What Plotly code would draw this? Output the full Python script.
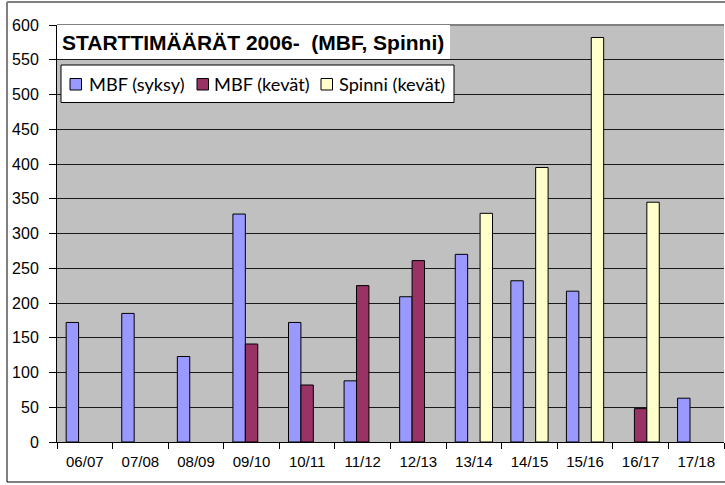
import plotly.graph_objects as go

categories = ["06/07", "07/08", "08/09", "09/10", "10/11", "11/12",
              "12/13", "13/14", "14/15", "15/16", "16/17", "17/18"]
mbf_syksy = [172, 185, 123, 328, 172, 88, 209, 270, 232, 217, None, 63]
mbf_kevat = [None, None, None, 141, 82, 225, 261, None, None, None, 48, None]
spinni_kevat = [None, None, None, None, None, None, None, 329, 395, 582, 345, None]
series_names = ["MBF (syksy)", "MBF (kevät)", "Spinni (kevät)"]
series_colors = ["#9999FF", "#993366", "#FFFFCC"]
y_ticks = list(range(0, 601, 50))
title_text = "STARTTIMÄÄRÄT 2006-  (MBF, Spinni)"

W, H = 725, 485
L, R, T, B = 57, 1, 25, 43
pw, ph = W - L - R, H - T - B

def px(x):
    return (x - L) / pw

def py(y):
    return 1 - (y - T) / ph

fig = go.Figure()
for name, vals, col in zip(series_names, [mbf_syksy, mbf_kevat, spinni_kevat], series_colors):
    fig.add_trace(go.Bar(x=categories, y=vals, name=name, showlegend=False,
                         hoverinfo="skip",
                         marker=dict(color=col, line=dict(color="black", width=1))))

fig.update_layout(
    width=W, height=H,
    margin=dict(l=L, r=R, t=T, b=B),
    paper_bgcolor="white",
    plot_bgcolor="#C0C0C0",
    barmode="group",
    bargap=0.33,
    bargroupgap=0,
    showlegend=False,
    xaxis=dict(showgrid=False, ticks="outside", tickson="boundaries", ticklen=6,
               tickcolor="black", showline=True, linecolor="black", linewidth=1,
               tickfont=dict(family="Liberation Sans, Arial, sans-serif", size=15, color="black"),
               ticklabelstandoff=6),
    yaxis=dict(range=[0, 600], tickvals=y_ticks, showgrid=True, gridcolor="#1a1a1a",
               gridwidth=1, ticks="outside", ticklen=7, tickcolor="black",
               showline=True, linecolor="black", linewidth=1, zeroline=False,
               tickfont=dict(family="Liberation Sans, Arial, sans-serif", size=16, color="black"),
               ticklabelstandoff=7),
    font=dict(family="Liberation Sans, Arial, sans-serif", color="black"),
)

shapes = [
    # top grid line (grey)
    dict(type="line", xref="paper", yref="paper", x0=0, x1=1, y0=1, y1=1,
         line=dict(color="#808080", width=2), layer="above"),
    # title box
    dict(type="rect", xref="paper", yref="paper", x0=0, x1=px(450), y0=py(59), y1=1,
         fillcolor="white", line=dict(width=0), layer="above"),
    # legend box
    dict(type="rect", xref="paper", yref="paper", x0=px(61), x1=px(454), y0=py(102.5), y1=py(65),
         fillcolor="white", line=dict(color="black", width=1), layer="above"),
    # outer chart border
    dict(type="line", xref="paper", yref="paper", x0=px(7), x1=px(7), y0=py(482), y1=py(2),
         line=dict(color="black", width=1), layer="above"),
    dict(type="line", xref="paper", yref="paper", x0=px(7), x1=px(725), y0=py(482), y1=py(482),
         line=dict(color="black", width=1), layer="above"),
    dict(type="line", xref="paper", yref="paper", x0=px(7), x1=px(725), y0=py(2), y1=py(2),
         line=dict(color="#808080", width=2), layer="above"),
]

marker_x = [70, 197, 321]
text_x = [86.5, 211.5, 336.5]
for name, col, mx, tx in zip(series_names, series_colors, marker_x, text_x):
    shapes.append(dict(type="rect", xref="paper", yref="paper",
                       x0=px(mx), x1=px(mx + 11.5), y0=py(90), y1=py(78.5),
                       fillcolor=col, line=dict(color="black", width=1), layer="above"))
    fig.add_annotation(text=name, xref="paper", yref="paper", x=px(tx), y=py(84),
                       xanchor="left", yanchor="middle", showarrow=False,
                       font=dict(family="Lato, Open Sans, sans-serif", size=18.2, color="black"))

fig.update_layout(shapes=shapes)

fig.add_annotation(text="<b>" + title_text + "</b>", xref="paper", yref="paper",
                   x=px(60), y=py(42.5), xanchor="left", yanchor="middle", showarrow=False,
                   font=dict(family="Liberation Sans, Arial, sans-serif", size=21, color="black"))

fig.write_html("out.html", config={"displayModeBar": False},
               post_script="document.body.style.margin='0';document.body.style.overflow='hidden';")
